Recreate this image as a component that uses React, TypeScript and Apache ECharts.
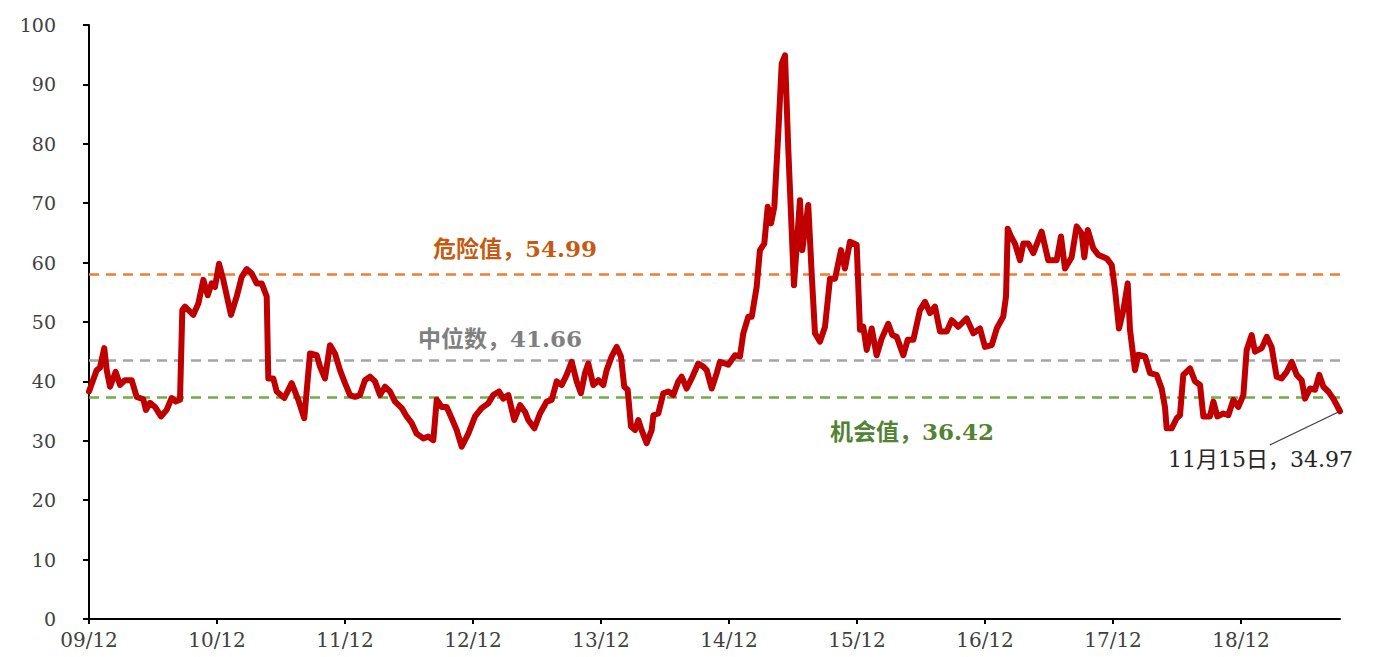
import React, { useEffect, useRef } from "react";
import * as echarts from "echarts";

// x positions are months counted from the "09/12" tick
const months = [
  0, 0.72, 1.03, 1.43, 1.66, 1.97, 2.5, 2.91, 3.37, 4.0, 4.47, 5.09, 5.34, 5.72, 6.19, 6.75, 7.28, 7.75, 8.13, 8.53,
  8.75, 9.0, 9.78, 10.25, 10.72, 11.13, 11.5, 11.81, 12.19, 12.59, 13.31, 13.85, 14.32, 14.78, 15.25, 15.72, 16.19, 16.66,
  16.81, 17.28, 17.6, 18.31, 19.0, 19.62, 20.18, 20.72, 21.35, 21.66, 22.12, 22.59, 23.06, 23.53, 24.0, 24.47, 24.94,
  25.4, 25.87, 26.34, 26.81, 27.28, 27.75, 28.22, 28.69, 29.32, 29.78, 30.25, 30.72, 31.34, 31.81, 32.28, 32.6, 33.07,
  33.53, 34.0, 34.47, 34.94, 35.56, 36.19, 36.81, 37.43, 37.9, 38.44, 38.84, 39.31, 39.87, 40.41, 40.87, 41.18, 41.75,
  42.28, 42.91, 43.38, 43.85, 44.32, 44.78, 45.25, 45.72, 46.12, 46.5, 46.81, 47.28, 47.75, 48.22, 48.53, 49.0, 49.47,
  49.87, 50.18, 50.5, 50.81, 51.19, 51.5, 51.81, 52.28, 52.75, 52.91, 53.37, 53.84, 54.31, 54.78, 55.25, 55.56, 56.03,
  56.5, 57.12, 57.59, 57.91, 58.38, 58.85, 59.15, 59.93, 60.56, 61.03, 61.34, 61.81, 62.13, 62.59, 62.9, 63.31, 63.63,
  63.94, 64.25, 64.62, 64.94, 65.25, 65.56, 66.09, 66.65, 66.87, 67.43, 67.75, 68.06, 68.53, 69.0, 69.47, 69.94, 70.5,
  70.87, 71.34, 71.97, 72.28, 72.59, 72.91, 73.38, 73.84, 74.31, 74.93, 75.31, 75.72, 76.34, 76.75, 77.28, 77.9, 78.37,
  78.84, 79.31, 79.78, 80.41, 80.88, 81.5, 82.28, 82.9, 83.53, 84.0, 84.63, 85.1, 85.71, 85.97, 86.13, 86.44, 86.81,
  87.28, 87.59, 88.06, 88.53, 89.31, 89.93, 90.72, 91.12, 91.5, 92.12, 92.59, 93.06, 93.31, 93.63, 94.15, 94.62, 95.41,
  95.88, 96.19, 96.56, 96.97, 97.38, 97.59, 98.06, 98.37, 99.0, 99.47, 100.09, 100.56, 100.87, 101.03, 101.5, 101.97,
  102.28, 102.59, 103.22, 103.69, 104.16, 104.47, 105.09, 105.41, 105.78, 106.34, 106.81, 107.28, 107.75, 108.22,
  108.53, 109.0, 109.31, 109.94, 110.41, 110.87, 111.34, 111.81, 112.28, 112.75, 113.22, 113.69, 114.0, 114.47, 114.94,
  115.34, 115.72, 116.18, 116.65, 117.28,
];

const values = [
  38.3, 41.9, 42.3, 45.6, 41.9, 39.1, 41.6, 39.4, 40.2, 40.2, 37.4, 37.0, 35.2, 36.4, 35.7, 34.1, 35.2, 37.2, 36.6, 36.9,
  52.0, 52.6, 51.2, 53.1, 57.1, 54.5, 56.5, 55.9, 59.8, 57.1, 51.2, 54.3, 57.6, 58.9, 58.2, 56.5, 56.5, 54.3,
  40.5, 40.5, 38.3, 37.2, 39.7, 36.9, 33.8, 44.7, 44.4, 42.5, 40.5, 46.1, 44.7, 41.9, 39.7, 37.7, 37.4,
  37.7, 40.2, 40.8, 40.0, 37.7, 39.1, 38.3, 36.6, 35.5, 34.1, 33.0, 31.2, 30.4, 30.7, 30.1, 36.9, 35.7,
  35.7, 33.8, 31.8, 29.0, 31.2, 34.1, 35.5, 36.3, 37.7, 38.3, 37.1, 37.7, 33.5, 36.0, 34.9, 33.5, 32.1,
  34.6, 36.6, 36.9, 40.0, 39.4, 41.1, 43.3, 40.0, 38.0, 41.4, 43.0, 39.4, 40.2, 39.4, 41.9, 44.2, 45.8,
  44.2, 39.1, 38.6, 32.4, 31.8, 33.5, 31.8, 29.6, 31.8, 34.3, 34.6, 38.0, 38.3, 37.7, 40.0, 40.8, 38.8,
  40.5, 43.0, 42.5, 41.9, 38.8, 41.4, 43.3, 42.8, 44.4, 44.2, 48.1, 50.9, 50.9, 55.9, 62.1, 63.2, 69.4,
  66.6, 69.4, 81.8, 93.5, 94.9, 79.0, 56.2, 70.5, 62.1, 69.7, 58.2, 48.1, 46.7, 49.2, 57.3, 57.3, 62.1,
  59.0, 63.5, 63.0, 48.7, 49.2, 45.3, 48.9, 44.4, 47.2, 49.7, 47.8, 47.5, 44.4, 47.0, 47.0, 52.0, 53.4,
  51.5, 52.6, 48.4, 48.4, 50.3, 49.2, 50.6, 48.1, 48.9, 45.8, 46.1, 48.9, 50.9, 54.3, 65.7, 64.4, 63.2,
  60.4, 63.2, 63.2, 61.6, 65.2, 60.4, 60.4, 64.4, 59.0, 60.9, 66.1, 64.9, 60.9, 65.5, 62.4, 61.3, 60.7,
  59.6, 55.4, 48.9, 52.0, 56.5, 48.7, 41.9, 44.5, 44.2, 41.4, 41.1, 38.8, 35.7, 32.1, 32.1, 33.8,
  34.3, 41.1, 42.2, 40.0, 39.4, 34.1, 34.1, 36.6, 34.1, 34.6, 34.3, 36.9, 35.7, 37.7,
  45.3, 47.8, 45.0, 45.6, 47.5, 45.8, 40.8, 40.5, 41.6, 43.3, 41.1, 40.2, 37.1, 38.8, 38.6,
  41.1, 39.1, 38.3, 37.1, 34.97,
];

const xTickLabels = ["09/12", "10/12", "11/12", "12/12", "13/12", "14/12", "15/12", "16/12", "17/12", "18/12"];
const xTickValues = [0, 12, 24, 36, 48, 60, 72, 84, 96, 108];

// reference lines (drawn positions) and their captions
const dangerLine = 58.0;
const medianLine = 43.5;
const chanceLine = 37.3;
const dangerText = "危险值，54.99";
const medianText = "中位数，41.66";
const chanceText = "机会值，36.42";
const lastText = "11月15日，34.97";
const leaderEnd = [110.7, 29.3];

const serifCJK = "'DejaVu Serif', 'Noto Sans CJK SC', serif";

export default function App() {
  const ref = useRef<HTMLDivElement>(null);
  useEffect(() => {
    if (!ref.current) return;
    const chart = echarts.init(ref.current, undefined, { renderer: "svg" });
    const data = months.map((m, i) => [m, values[i]]);
    const lastX = months[months.length - 1];
    const lastY = values[values.length - 1];
    chart.setOption({
      animation: false,
      backgroundColor: "#ffffff",
      grid: { left: 89, right: 1375 - 1340, top: 25, bottom: 657 - 619, containLabel: false },
      xAxis: {
        type: "value",
        min: 0,
        max: lastX,
        interval: 12,
        splitLine: { show: false },
        axisLine: { show: true, onZero: false, lineStyle: { color: "#000", width: 2 } },
        axisTick: { show: true, inside: false, length: 5, lineStyle: { color: "#000", width: 2 }, customValues: xTickValues },
        axisLabel: {
          customValues: xTickValues,
          margin: 11,
          color: "#404040",
          fontSize: 20,
          fontFamily: serifCJK,
          formatter: (v: number) => {
            const idx = xTickValues.indexOf(Math.round(v));
            return idx >= 0 ? xTickLabels[idx] : "";
          },
        },
      },
      yAxis: {
        type: "value",
        min: 0,
        max: 100,
        interval: 10,
        splitLine: { show: false },
        axisLine: { show: true, lineStyle: { color: "#000", width: 2 } },
        axisTick: { show: true, inside: false, length: 6, lineStyle: { color: "#000", width: 2 } },
        axisLabel: { margin: 33, color: "#404040", fontSize: 19, fontFamily: serifCJK },
      },
      series: [
        {
          type: "line",
          data,
          symbol: "none",
          smooth: false,
          lineStyle: { color: "#C00000", width: 6, join: "round", cap: "round" },
          z: 3,
          markLine: {
            silent: true,
            symbol: "none",
            label: { show: false },
            z: 1,
            data: [
              { yAxis: dangerLine, lineStyle: { color: "#ED7D31", type: [10, 7], width: 2.5 } },
              { yAxis: medianLine, lineStyle: { color: "#A5A5A5", type: [10, 7], width: 2.5 } },
              { yAxis: chanceLine, lineStyle: { color: "#70AD47", type: [10, 7], width: 2.5 } },
              [
                { coord: [lastX, lastY], lineStyle: { color: "#404040", type: "solid", width: 1.3 } },
                { coord: leaderEnd },
              ],
            ],
          },
        },
      ],
      graphic: [
        {
          type: "text",
          x: 515,
          y: 248,
          style: { text: dangerText, fill: "#C55A11", font: `bold 23px ${serifCJK}`, align: "center", verticalAlign: "middle" },
        },
        {
          type: "text",
          x: 500,
          y: 338,
          style: { text: medianText, fill: "#7F7F7F", font: `bold 23px ${serifCJK}`, align: "center", verticalAlign: "middle" },
        },
        {
          type: "text",
          x: 912,
          y: 431,
          style: { text: chanceText, fill: "#548235", font: `bold 23px ${serifCJK}`, align: "center", verticalAlign: "middle" },
        },
        {
          type: "text",
          x: 1168,
          y: 459,
          style: { text: lastText, fill: "#262626", font: `22px ${serifCJK}`, align: "left", verticalAlign: "middle" },
        },
      ],
    });
    return () => chart.dispose();
  }, []);
  return <div ref={ref} style={{ position: "fixed", left: 0, top: 0, width: 1375, height: 657 }} />;
}
